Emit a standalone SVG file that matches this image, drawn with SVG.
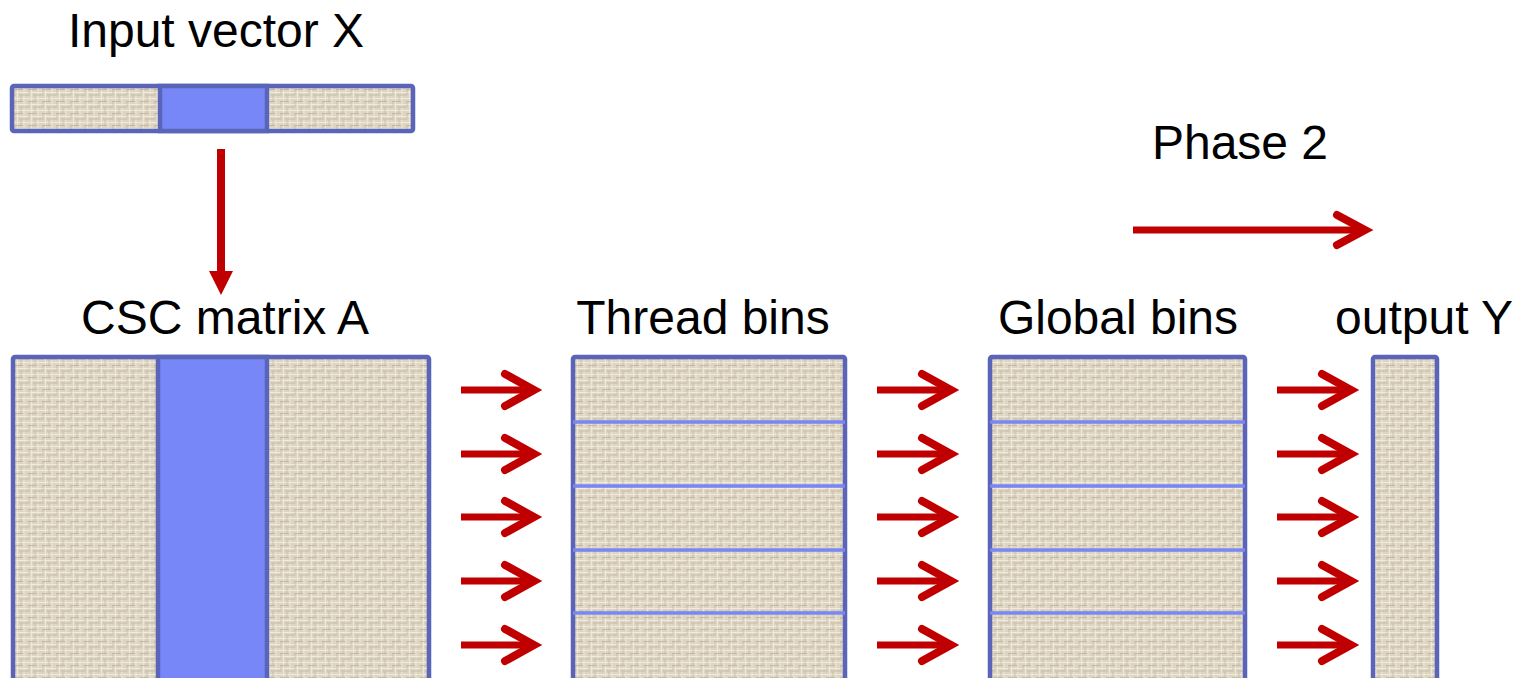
<svg xmlns="http://www.w3.org/2000/svg" width="1533" height="678" viewBox="0 0 1533 678">
<defs>
<pattern id="linen" width="14" height="12" patternUnits="userSpaceOnUse">
<rect width="14" height="12" fill="#ddd4c1"/>
<path d="M0 2.5H14M0 8.5H14" stroke="#f0ebe0" stroke-width="1.2"/>
<path d="M3.5 0V12M10 0V12" stroke="#eee8db" stroke-width="1"/>
<path d="M0 5.5H9M5 11H14" stroke="#bfb39c" stroke-width="0.8"/>
<path d="M7 0V6M1 6V12" stroke="#c4b9a3" stroke-width="0.7"/>
</pattern>
<marker id="chev" markerUnits="userSpaceOnUse" viewBox="-40 -22 50 44" refX="0" refY="0" markerWidth="50" markerHeight="44" orient="auto" overflow="visible">
<path d="M-28 -15 L0 0 L-28 15" fill="none" stroke="#c00000" stroke-width="8" stroke-linecap="round" stroke-linejoin="miter"/>
</marker>
</defs>
<style>
.t{font-family:"Liberation Sans",Arial,sans-serif;font-size:48px;fill:#000}
.box{fill:url(#linen);stroke:#5a65b9;stroke-width:4.5}
.sel{fill:#7787f7;stroke:#5a65b9;stroke-width:4.5}
.div{stroke:#7887f4;stroke-width:3.5}
.arr{stroke:#c00000;stroke-width:7;fill:none}
</style>

<g id="input-vector">
<text class="t" x="216" y="47" text-anchor="middle">Input vector X</text>
<rect class="box" x="12" y="86" width="401" height="45" rx="2"/>
<rect class="sel" x="160" y="86" width="107" height="45"/>
</g>

<g id="csc-matrix">
<text class="t" x="225" y="334" text-anchor="middle">CSC matrix A</text>
<rect class="box" x="13" y="357" width="416" height="330" rx="2"/>
<rect class="sel" x="158" y="357" width="109" height="330"/>
</g>

<g id="thread-bins">
<text class="t" x="703" y="334" text-anchor="middle">Thread bins</text>
<rect class="box" x="573" y="357" width="272" height="330" rx="2"/>
<path class="div" d="M573 422H845M573 486H845M573 550H845M573 613H845"/>
</g>

<g id="global-bins">
<text class="t" x="1118" y="334" text-anchor="middle">Global bins</text>
<rect class="box" x="990" y="357" width="255" height="330" rx="2"/>
<path class="div" d="M990 422H1245M990 486H1245M990 550H1245M990 613H1245"/>
</g>

<g id="output-y">
<text class="t" x="1424" y="334" text-anchor="middle">output Y</text>
<rect class="box" x="1373" y="357" width="64" height="330" rx="2"/>
</g>

<g id="phase2">
<text class="t" x="1240" y="159" text-anchor="middle">Phase 2</text>
</g>

<g id="connectors">
<path d="M221 149V272" stroke="#c00000" stroke-width="8"/>
<polygon points="209,271 233,271 221,295" fill="#c00000"/>
<path class="arr" d="M1133 230H1365" marker-end="url(#chev)"/>
<path class="arr" d="M461 390H532M461 454H532M461 517H532M461 581H532M461 645H532"/>
<path class="arr" d="M877 390H949M877 454H949M877 517H949M877 581H949M877 645H949"/>
<path class="arr" d="M1277 390H1349M1277 454H1349M1277 517H1349M1277 581H1349M1277 645H1349"/>
<g fill="none" stroke="#c00000" stroke-width="8" stroke-linecap="round">
<path d="M505 374L534 390L505 406M505 438L534 454L505 470M505 501L534 517L505 533M505 565L534 581L505 597M505 629L534 645L505 661"/>
<path d="M922 374L951 390L922 406M922 438L951 454L922 470M922 501L951 517L922 533M922 565L951 581L922 597M922 629L951 645L922 661"/>
<path d="M1322 374L1351 390L1322 406M1322 438L1351 454L1322 470M1322 501L1351 517L1322 533M1322 565L1351 581L1322 597M1322 629L1351 645L1322 661"/>
</g>
</g>
</svg>
